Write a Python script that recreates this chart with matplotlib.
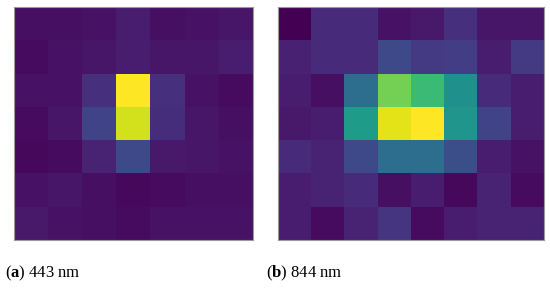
import numpy as np
import matplotlib
matplotlib.use("Agg")
import matplotlib.pyplot as plt

plt.rcParams['font.family'] = ['Liberation Serif', 'DejaVu Serif']
plt.rcParams['mathtext.fontset'] = 'custom'
plt.rcParams['mathtext.rm'] = 'Liberation Serif'
plt.rcParams['mathtext.bf'] = 'Liberation Serif:bold'

# normalised intensity
band_443 = [
    [0.04, 0.04, 0.05, 0.08, 0.04, 0.05, 0.06],
    [0.03, 0.05, 0.06, 0.08, 0.06, 0.06, 0.08],
    [0.05, 0.05, 0.14, 1.00, 0.14, 0.05, 0.03],
    [0.03, 0.06, 0.20, 0.93, 0.13, 0.06, 0.04],
    [0.02, 0.03, 0.10, 0.22, 0.07, 0.06, 0.05],
    [0.05, 0.06, 0.04, 0.02, 0.03, 0.04, 0.04],
    [0.07, 0.05, 0.04, 0.03, 0.05, 0.05, 0.05],
]
band_844 = [
    [0.00, 0.12, 0.12, 0.05, 0.07, 0.14, 0.06, 0.06],
    [0.09, 0.12, 0.12, 0.22, 0.17, 0.18, 0.08, 0.17],
    [0.08, 0.04, 0.36, 0.79, 0.68, 0.50, 0.12, 0.08],
    [0.07, 0.08, 0.55, 0.96, 1.00, 0.52, 0.20, 0.08],
    [0.12, 0.10, 0.22, 0.36, 0.36, 0.24, 0.08, 0.05],
    [0.08, 0.10, 0.12, 0.04, 0.08, 0.02, 0.10, 0.03],
    [0.08, 0.03, 0.10, 0.15, 0.03, 0.08, 0.10, 0.10],
]
captions = [r"($\mathbf{a}$) 443 nm", r"($\mathbf{b}$) 844 nm"]

fig = plt.figure(figsize=(5.5, 2.88), dpi=100)
ax1 = fig.add_axes([14/550, 48/288, 239/550, 233/288])
ax2 = fig.add_axes([278/550, 48/288, 266/550, 233/288])

for ax, data in zip([ax1, ax2], [band_443, band_844]):
    ax.imshow(np.array(data), cmap='viridis', vmin=0, vmax=1,
              aspect='auto', interpolation='nearest')
    ax.set_xticks([])
    ax.set_yticks([])
    for s in ax.spines.values():
        s.set_color('#9a9a9a')
        s.set_linewidth(0.8)

fig.text(5/550, 15/288, captions[0], fontsize=12, va='center', ha='left')
fig.text(266/550, 15/288, captions[1], fontsize=12, va='center', ha='left')

fig.savefig("out.png", dpi=100)
